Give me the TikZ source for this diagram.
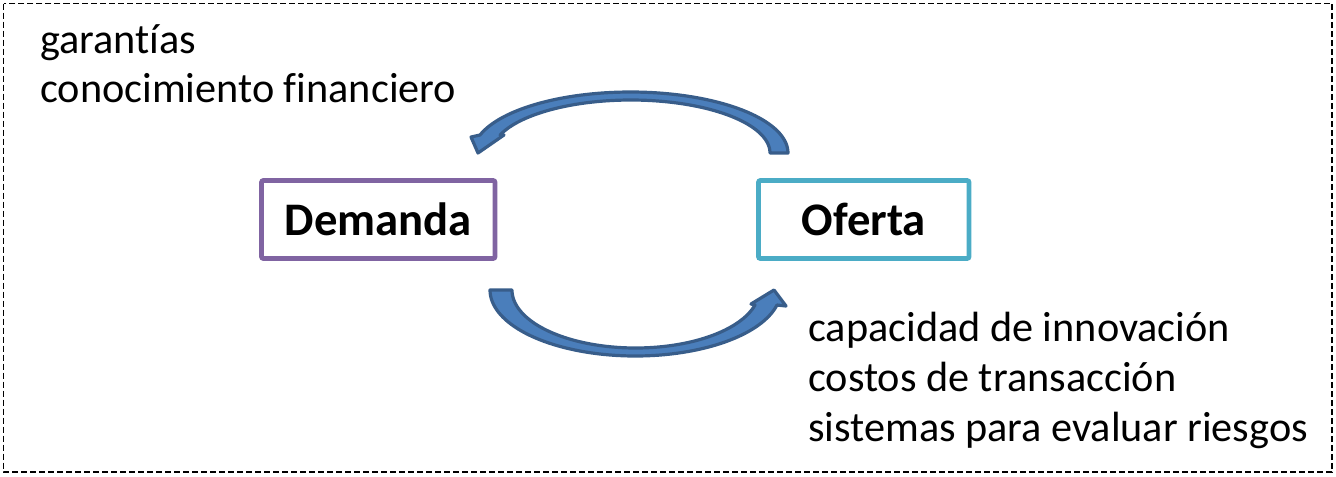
\documentclass[tikz,border=0pt]{standalone}
\usepackage{fontspec}
\setmainfont[Ligatures=NoCommon]{Carlito}
\definecolor{demcol}{HTML}{8064A2}
\definecolor{ofcol}{HTML}{4BACC6}
\definecolor{arrfill}{HTML}{4A7EBB}
\definecolor{arrline}{HTML}{385D8A}
\tikzset{
  frame/.style={draw=black, line width=1.3pt, dash pattern=on 4.5pt off 2.25pt},
  box/.style={draw, line width=3.6pt, rounded corners=1.5pt, minimum height=58.5pt,
    inner sep=0pt, font=\bfseries\fontsize{35}{40}\selectfont},
  lbl/.style={anchor=base west, inner sep=0pt, font=\fontsize{31.7}{37.5}\selectfont},
  curvedarrow/.style={fill=arrfill, draw=arrline, line width=2.4pt, line join=round}
}
\begin{document}
\begin{tikzpicture}[x=0.75pt,y=-0.75pt]
\useasboundingbox (0,0) rectangle (1336,476);
\draw[frame] (3.5,3.5) rectangle (1332,472);

\node[box, draw=demcol, minimum width=175.1pt] (dem) at (378.25,219.5) {Demanda};
\node[box, draw=ofcol, minimum width=157.9pt] (ofe) at (863.75,219.5) {Oferta};

\node[lbl] (l1) at (40,53) {garantías};
\node[lbl] (l2) at (40,102) {conocimiento financiero};

\node[lbl] (r1) at (808,341.7) {capacidad de innovación};
\node[lbl] (r2) at (808,391.7) {costos de transacción};
\node[lbl] (r3) at (808,441.7) {sistemas para evaluar riesgos};

% upper curved arrow: Oferta -> Demanda
\path[curvedarrow]
  plot[domain=360:197.16, samples=70, variable=\t] ({630.5+157.5*cos(\t)},{153+61*sin(\t)})
  -- (471,137) -- (478,153) -- (504,135)
  -- plot[domain=199.85:360, samples=70, variable=\t] ({630.9+139.1*cos(\t)},{153+53*sin(\t)})
  -- cycle;

% lower curved arrow: Demanda -> Oferta
\path[curvedarrow]
  plot[domain=180:13.14, samples=70, variable=\t] ({635.4+145.4*cos(\t)},{290+66*sin(\t)})
  -- (786,306) -- (774,290) -- (751,304)
  -- plot[domain=14.99:180, samples=70, variable=\t] ({635.6+123.6*cos(\t)},{290+58*sin(\t)})
  -- cycle;
\end{tikzpicture}
\end{document}
